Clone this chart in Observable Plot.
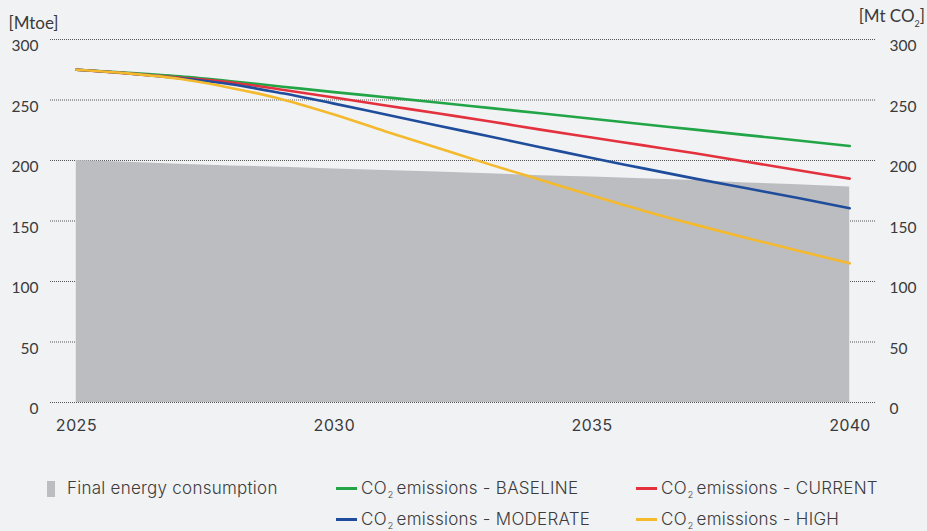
<!DOCTYPE html>
<html>
<head>
<meta charset="utf-8">
<script src="https://cdn.jsdelivr.net/npm/d3@7"></script>
<script src="https://cdn.jsdelivr.net/npm/@observablehq/plot@0.6"></script>
<style>
  html, body { margin: 0; padding: 0; background: #f1f2f4; }
  #wrap { position: relative; width: 927px; height: 531px; overflow: hidden; font-family: Inter, "Noto Sans", sans-serif; color: #3a3a3a; }
  #chart { position: absolute; left: 0; top: 0; }
  .leg { position: absolute; font-size: 17px; letter-spacing: 0.25px; line-height: 17px; white-space: nowrap; display: flex; align-items: center; color: #3c3c3c; font-weight: 300; }
  .leg .sub { font-size: 9px; position: relative; top: 6px; margin: 0 3px 0 1px; }
  .sw-line { display: inline-block; width: 21px; height: 2.5px; margin-right: 4px; }
  .sw-bar { display: inline-block; width: 8px; height: 16px; margin-right: 12px; background: #bcbdc1; }
</style>
</head>
<body>
<div id="wrap">
  <div id="chart"></div>
  <div class="leg" style="left:47px; top:480px;"><span class="sw-bar"></span>Final energy consumption</div>
  <div class="leg" style="left:336px; top:480px;"><span class="sw-line" style="background:#22a546"></span>CO<span class="sub">2</span>emissions - BASELINE</div>
  <div class="leg" style="left:636px; top:480px;"><span class="sw-line" style="background:#e3313e"></span>CO<span class="sub">2</span>emissions - CURRENT</div>
  <div class="leg" style="left:336px; top:511px;"><span class="sw-line" style="background:#1f4d9c"></span>CO<span class="sub">2</span>emissions - MODERATE</div>
  <div class="leg" style="left:636px; top:511px;"><span class="sw-line" style="background:#f4b92c"></span>CO<span class="sub">2</span>emissions - HIGH</div>
</div>
<script>
const years = [2025,2026,2027,2028,2029,2030,2031,2032,2033,2034,2035,2036,2037,2038,2039,2040];
const finalEnergy = [200,198.5,197,195.5,194.5,193,191.8,190.5,189,187.5,186.3,185,183.5,181.5,180,178];
const co2Baseline = [275,272.5,269.5,265.5,261,256.5,252.3,248,243.5,239,234.5,230,225.5,221,216.5,212];
const co2Current  = [275,272,268.5,264.5,258.5,252,245.5,239,232.5,225.5,219,212.5,206,199,192,185];
const co2Moderate = [275,272,268,263,255.5,247,238,229,220,211,202,193.5,185,177,169,160.5];
const co2High     = [275,272,267.5,260,250.5,238,224,210.5,197,184,171,158.5,147,136,125.5,115];
const yTicks = [0,50,100,150,200,250,300];
const xTicks = [2025,2030,2035,2040];

const series = [
  {name: "BASELINE", values: co2Baseline, color: "#22a546"},
  {name: "CURRENT", values: co2Current, color: "#e3313e"},
  {name: "MODERATE", values: co2Moderate, color: "#1f4d9c"},
  {name: "HIGH", values: co2High, color: "#f4b92c"}
];
const areaData = years.map((y, i) => ({year: y, value: finalEnergy[i]}));
const lineData = series.flatMap(s => years.map((y, i) => ({year: y, value: s.values[i], name: s.name})));

const tickFont = "Lato, 'Open Sans', sans-serif";
const chart = Plot.plot({
  width: 927,
  height: 450,
  marginLeft: 50,
  marginRight: 52,
  marginTop: 39,
  marginBottom: 48,
  style: {background: "transparent", fontFamily: "Inter, 'Noto Sans', sans-serif", color: "#3a3a3a"},
  x: {domain: [2024.5, 2040.5]},
  y: {domain: [0, 300]},
  color: {domain: series.map(s => s.name), range: series.map(s => s.color)},
  marks: [
    Plot.ruleY(yTicks, {x1: 2024.5, x2: 2040.5, stroke: "#555", strokeWidth: 1, strokeDasharray: "1,1"}),
    Plot.areaY(areaData, {x: "year", y: "value", fill: "#bcbdc1"}),
    Plot.line(lineData, {x: "year", y: "value", z: "name", stroke: "name", strokeWidth: 2.6, curve: "monotone-x"}),
    Plot.axisY(yTicks, {anchor: "left", tickSize: 0, tickPadding: 12, label: null, fontSize: 15.5, fontFamily: tickFont, dy: 7, fill: "#3a3a3a"}),
    Plot.axisY(yTicks, {anchor: "right", tickSize: 0, tickPadding: 14, label: null, fontSize: 15.5, fontFamily: tickFont, dy: 7, fill: "#3a3a3a"}),
    Plot.axisX(xTicks, {tickSize: 0, tickPadding: 17, label: null, tickFormat: d => String(d), fontSize: 16, fill: "#3a3a3a"}),
    Plot.text(["[Mtoe]"], {frameAnchor: "top-left", dx: -42, dy: -23, textAnchor: "start", fontSize: 17, fontFamily: tickFont, fill: "#3a3a3a"})
  ]
});
document.getElementById("chart").appendChild(chart);

// right unit label with subscript
const svg = d3.select(chart);
const t = svg.append("text")
  .attr("x", 925).attr("y", 22)
  .attr("text-anchor", "end")
  .attr("font-family", "Lato, 'Open Sans', sans-serif")
  .attr("font-size", 17)
  .attr("fill", "#3a3a3a");
t.append("tspan").text("[Mt CO");
t.append("tspan").attr("font-size", 9).attr("dy", 5).text("2");
t.append("tspan").attr("dy", -5).text("]");
</script>
</body>
</html>
